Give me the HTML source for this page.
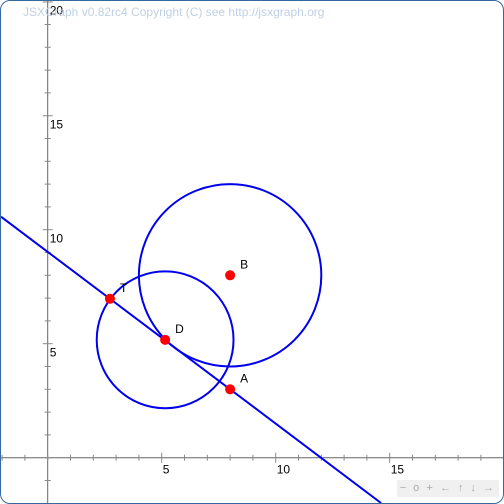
<!DOCTYPE html>
<html><head><meta charset="utf-8"><style>
html,body{margin:0;background:#fff;overflow:hidden;width:504px;height:504px}
#box{position:absolute;left:0;top:0;width:502px;height:502px;border:1px solid #356AA0;border-radius:10px;overflow:hidden;font-family:"Liberation Sans",sans-serif}
svg{display:block}
</style></head><body>
<div id="box">
<svg id="s" width="502" height="502"></svg>
<div style="position:absolute;left:22px;top:4px;font-size:12px;color:#c0d0e4">JSXGraph v0.82rc4 Copyright (C) see http://jsxgraph.org</div>
<div style="position:absolute;right:4px;bottom:6px;background:#f0f0f0;color:#aaa;font-size:11px;padding:1px 3px;letter-spacing:2px;line-height:15px">− o + ← ↑ ↓ →</div>
</div>
<script>
const pointNames=["A","B","D","T"];
const pointX=[8,8,5.15,2.73];
const pointY=[3,8,5.17,6.97];
const circleCx=[8,5.15];
const circleCy=[8,5.17];
const circleR=[4,3];
const lineP1=[2.73,6.97];
const lineP2=[8,3];
const xTicks=[5,10,15];
const yTicks=[5,10,15,20];
const ox=46.7,oy=456.7,u=22.8;
const X=v=>ox+v*u, Y=v=>oy-v*u;
const s=document.getElementById('s');
const NS="http://www.w3.org/2000/svg";
function mk(t,a){const e=document.createElementNS(NS,t);for(const k in a)e.setAttribute(k,a[k]);s.appendChild(e);return e;}
let e;
e=mk('line',{x1:0,y1:oy,x2:502,y2:oy,stroke:'#666','stroke-width':1});

e=mk('line',{x1:ox,y1:0,x2:ox,y2:502,stroke:'#666','stroke-width':1});

for(let i=-2;i<=19;i++){const big=i%5==0&&i!=0;const h=big?5:3;
 e=mk('line',{x1:X(i),y1:oy-h,x2:X(i),y2:oy+h,stroke:'#888'});
 }
for(let i=-1;i<=20;i++){const big=i%5==0&&i!=0;const h=big?5:3;
 e=mk('line',{x1:ox-h,y1:Math.max(1,Y(i)),x2:ox+h,y2:Math.max(1,Y(i)),stroke:'#888'});
 }
xTicks.forEach(v=>{e=mk('text',{x:X(v)+1,y:oy+16,'font-size':12,fill:'#000','font-family':'Liberation Sans'});e.textContent=v;
 });
yTicks.forEach(v=>{e=mk('text',{x:ox+2,y:Y(v)+13,'font-size':12,fill:'#000','font-family':'Liberation Sans'});e.textContent=v;
 });
circleR.forEach((r,i)=>{e=mk('circle',{cx:X(circleCx[i]),cy:Y(circleCy[i]),r:r*u,fill:'none',stroke:'#0000ee','stroke-width':2});
 });
const m=(lineP2[1]-lineP1[1])/(lineP2[0]-lineP1[0]);
const xa=(0-ox)/u;
const yb=(oy-502)/u;
const xb=lineP1[0]+(yb-lineP1[1])/m;
e=mk('line',{x1:X(xa),y1:Y(lineP1[1]+m*(xa-lineP1[0])),x2:X(xb),y2:Y(yb),stroke:'#0000ee','stroke-width':2});

pointNames.forEach((n,i)=>{e=mk('circle',{cx:X(pointX[i]),cy:Y(pointY[i]),r:5,fill:'#ff0000'});
 
 e=mk('text',{x:X(pointX[i])+10,y:Y(pointY[i])-7,'font-size':12,fill:'#000','font-family':'Liberation Sans'});e.textContent=n;
 });
</script>
</body></html>
